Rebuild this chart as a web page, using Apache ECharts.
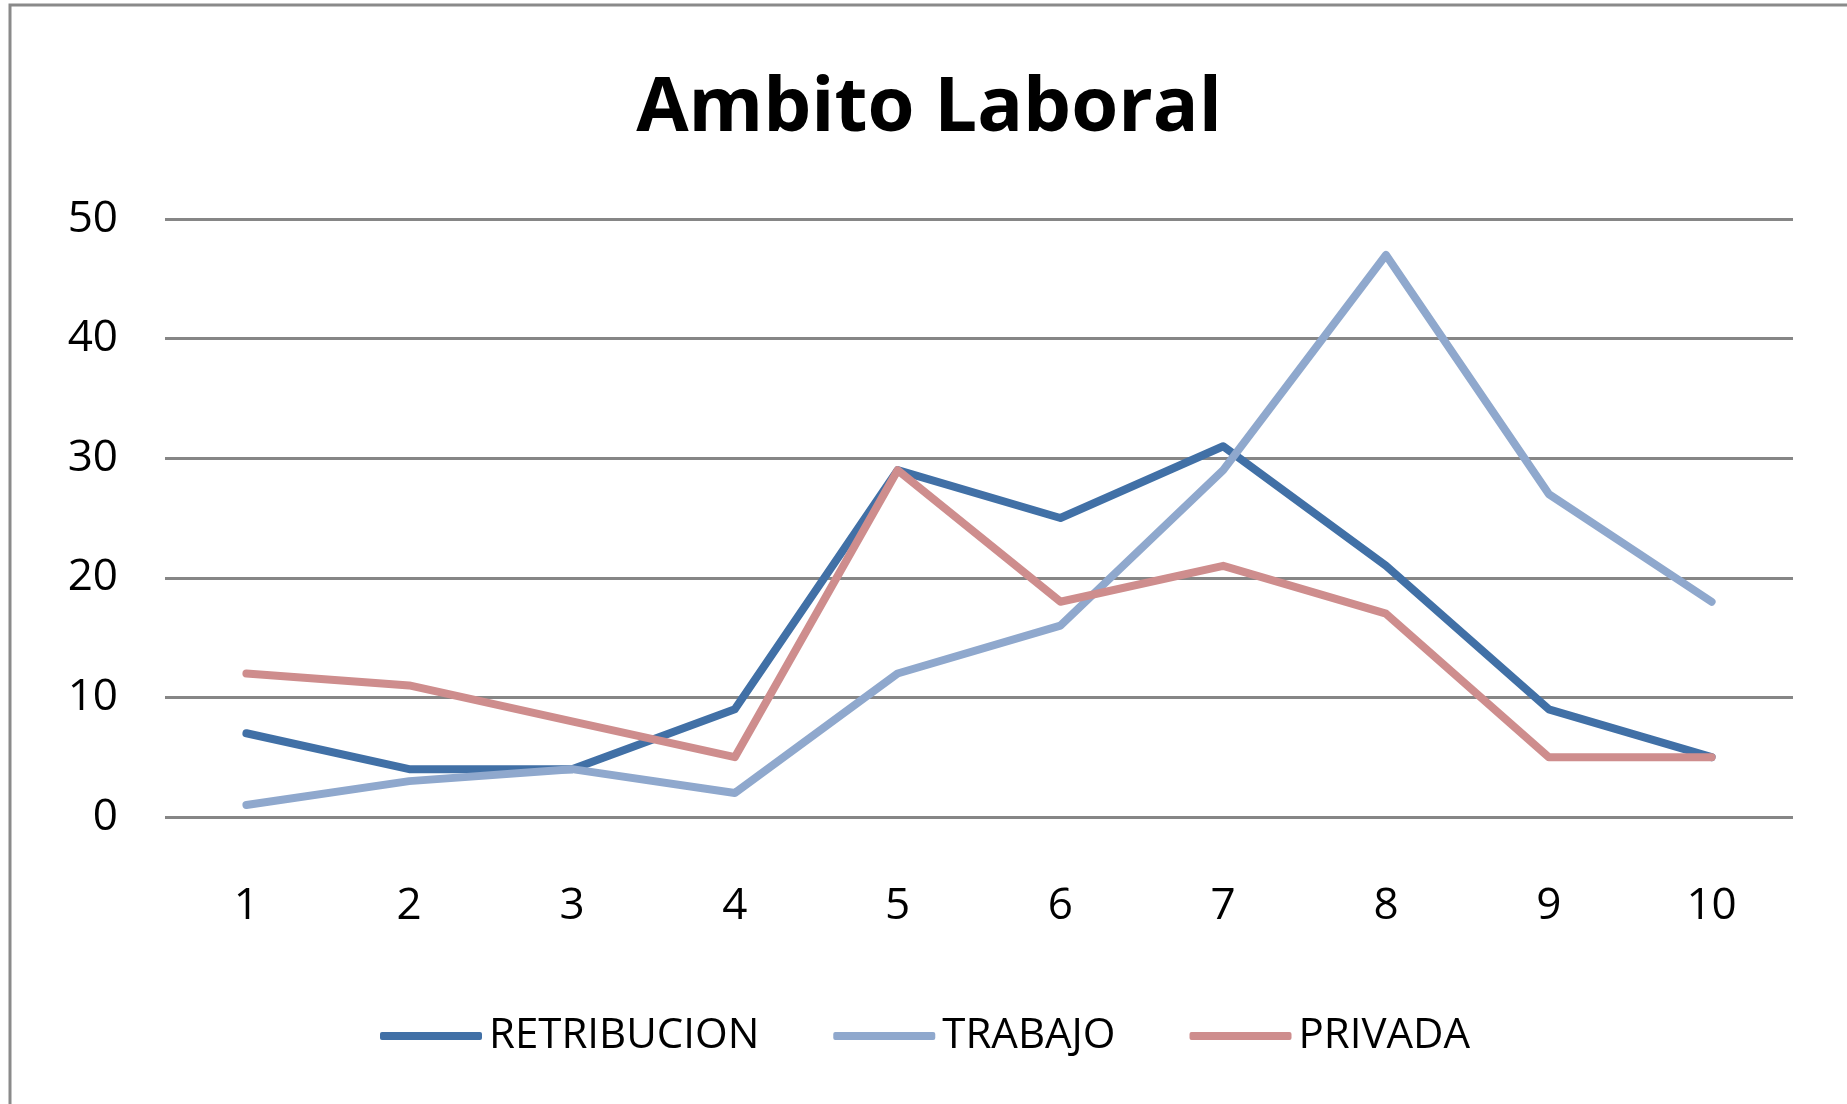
<!DOCTYPE html>
<html>
<head>
<meta charset="utf-8">
<script src="https://cdn.jsdelivr.net/npm/echarts@6/dist/echarts.min.js"></script>
<style>
  html, body { margin: 0; padding: 0; background: #fff; }
  #chart { width: 1847px; height: 1104px; }
</style>
</head>
<body>
<div id="chart"></div>
<script>
// datos
const categorias = ['1', '2', '3', '4', '5', '6', '7', '8', '9', '10']
const retribucion = [7, 4, 4, 9, 29, 25, 31, 21, 9, 5]
const trabajo = [1, 3, 4, 2, 12, 16, 29, 47, 27, 18]
const privada = [12, 11, 8, 5, 29, 18, 21, 17, 5, 5]
const nombres = ['RETRIBUCION', 'TRABAJO', 'PRIVADA']
const colores = ['#4170A6', '#8FA8CD', '#CE8D8D']

const fuente = '"Open Sans", sans-serif'

const chart = echarts.init(document.getElementById('chart'))

const linea = (name, values, color) => ({
  name: name,
  type: 'line',
  data: values,
  symbol: 'none',
  color: color,
  lineStyle: { width: 8, color: color, cap: 'round', join: 'round' }
})

const option = {
  animation: false,
  backgroundColor: '#fff',
  graphic: [
    {
      type: 'rect',
      shape: { x: 10, y: 5, width: 2000, height: 2000 },
      style: { fill: 'none', stroke: '#8a8a8a', lineWidth: 3 }
    }
  ],
  title: {
    text: 'Ambito Laboral',
    left: 924,
    top: 66,
    textAlign: 'center',
    textStyle: {
      fontFamily: fuente,
      fontWeight: 'bold',
      fontSize: 76,
      color: '#000'
    }
  },
  grid: {
    left: 165,
    right: 54,
    top: 219,
    bottom: 287,
    containLabel: false
  },
  legend: {
    data: nombres,
    left: 375,
    top: 1010,
    itemWidth: 102,
    itemHeight: 8,
    itemGap: 74,
    icon: 'roundRect',
    textStyle: {
      fontFamily: fuente,
      fontSize: 42,
      color: '#000',
      padding: [0, 0, 0, 2]
    }
  },
  xAxis: {
    type: 'category',
    data: categorias,
    boundaryGap: true,
    axisLine: { show: false },
    axisTick: { show: false },
    axisLabel: {
      margin: 67,
      fontFamily: fuente,
      fontSize: 44,
      color: '#000'
    }
  },
  yAxis: {
    type: 'value',
    min: 0,
    max: 50,
    interval: 10,
    axisLine: { show: false },
    axisTick: { show: false },
    axisLabel: {
      margin: 47,
      fontFamily: fuente,
      fontSize: 44,
      color: '#000'
    },
    splitLine: { lineStyle: { color: '#868686', width: 3 } }
  },
  series: [
    linea(nombres[0], retribucion, colores[0]),
    linea(nombres[1], trabajo, colores[1]),
    linea(nombres[2], privada, colores[2])
  ]
}

chart.setOption(option)
</script>
</body>
</html>
